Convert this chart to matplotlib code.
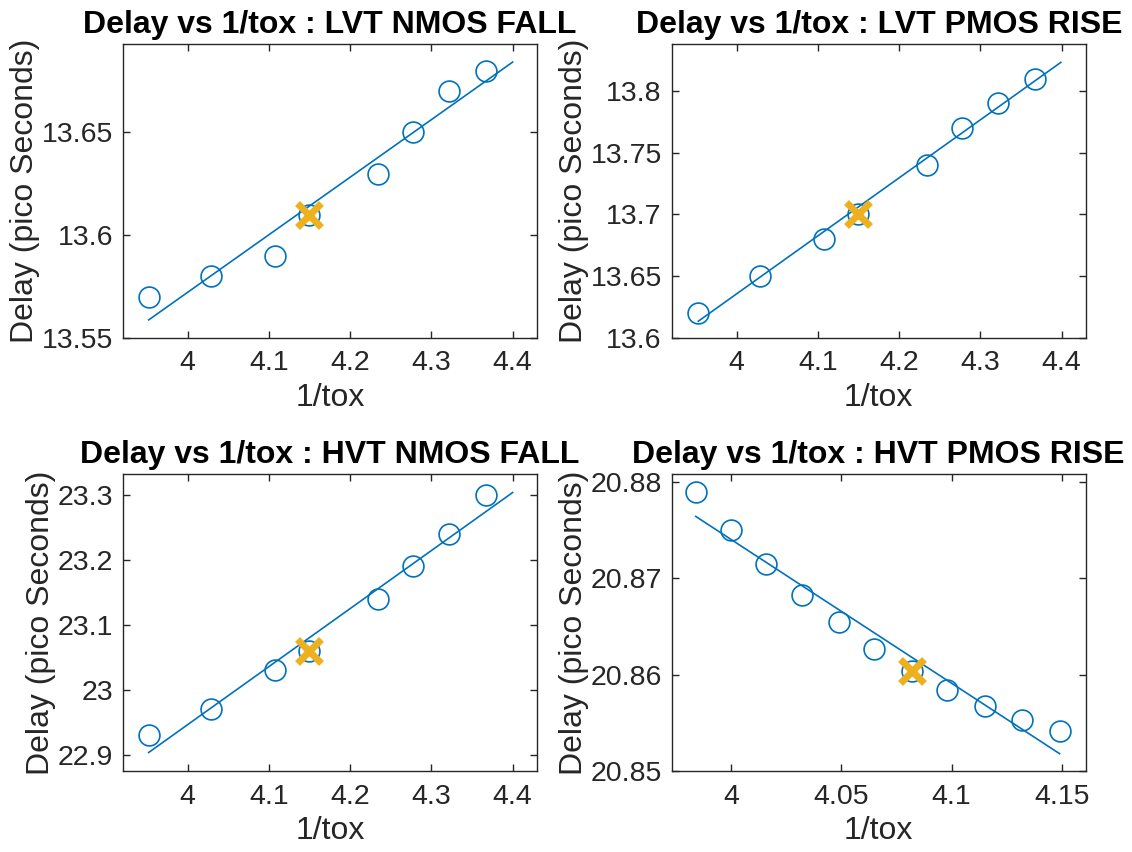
import matplotlib
matplotlib.use("Agg")
import matplotlib.pyplot as plt

plt.rcParams['font.family'] = ['Liberation Sans', 'DejaVu Sans']

BLUE = '#0072BD'
GOLD = '#EDB120'
DARK = '#262626'

titles = ["Delay vs 1/tox : LVT NMOS FALL", "Delay vs 1/tox : LVT PMOS RISE",
          "Delay vs 1/tox : HVT NMOS FALL", "Delay vs 1/tox : HVT PMOS RISE"]

# data
x_lvt_n = [3.952, 4.029, 4.108, 4.149, 4.234, 4.277, 4.322, 4.367]
y_lvt_n = [13.57, 13.58, 13.59, 13.61, 13.63, 13.65, 13.67, 13.68]
x_lvt_p = [3.952, 4.029, 4.108, 4.149, 4.234, 4.277, 4.322, 4.367]
y_lvt_p = [13.62, 13.65, 13.68, 13.70, 13.74, 13.77, 13.79, 13.81]
x_hvt_n = [3.952, 4.029, 4.108, 4.149, 4.234, 4.277, 4.322, 4.367]
y_hvt_n = [22.93, 22.97, 23.03, 23.06, 23.14, 23.19, 23.24, 23.30]
x_hvt_p = [3.984, 4.000, 4.016, 4.032, 4.049, 4.065, 4.082, 4.098, 4.115, 4.132, 4.149]
y_hvt_p = [20.8789, 20.8750, 20.8715, 20.8683, 20.8654, 20.8627, 20.8604,
           20.8584, 20.8567, 20.8553, 20.8542]

# fitted lines (end points)
fit_x = [[3.952, 4.400], [3.953, 4.399], [3.952, 4.400], [3.984, 4.149]]
fit_y = [[13.5588, 13.6842], [13.6136, 13.8231], [22.9035, 23.3035], [20.8764, 20.8518]]

# nominal points
nom_x = [4.149, 4.149, 4.149, 4.082]
nom_y = [13.61, 13.70, 23.06, 20.8604]

xlims = [(3.92, 4.43), (3.92, 4.43), (3.92, 4.43), (3.973, 4.161)]
ylims = [(13.55, 13.693), (13.60, 13.838), (22.875, 23.332), (20.85, 20.8808)]
xticks = [[4, 4.1, 4.2, 4.3, 4.4]] * 3 + [[4, 4.05, 4.1, 4.15]]
xticklabels = [["4", "4.1", "4.2", "4.3", "4.4"]] * 3 + [["4", "4.05", "4.1", "4.15"]]
yticks = [[13.55, 13.6, 13.65], [13.6, 13.65, 13.7, 13.75, 13.8],
          [22.9, 23.0, 23.1, 23.2, 23.3], [20.85, 20.86, 20.87, 20.88]]
yticklabels = [["13.55", "13.6", "13.65"], ["13.6", "13.65", "13.7", "13.75", "13.8"],
               ["22.9", "23", "23.1", "23.2", "23.3"], ["20.85", "20.86", "20.87", "20.88"]]

xs = [x_lvt_n, x_lvt_p, x_hvt_n, x_hvt_p]
ys = [y_lvt_n, y_lvt_p, y_hvt_n, y_hvt_p]

positions = [
    [122.7 / 1132, 1 - 338 / 852, (537 - 122.7) / 1132, (338 - 44) / 852],
    [671.5 / 1132, 1 - 338 / 852, (1086 - 671.5) / 1132, (338 - 44) / 852],
    [122.7 / 1132, 1 - 771 / 852, (537 - 122.7) / 1132, (771 - 474) / 852],
    [671.5 / 1132, 1 - 771 / 852, (1086 - 671.5) / 1132, (771 - 474) / 852],
]

fig = plt.figure(figsize=(11.32, 8.52), dpi=100)
for i in range(4):
    ax = fig.add_axes(positions[i])
    ax.plot(xs[i], ys[i], linestyle='none', marker='o', markersize=15,
            markerfacecolor='none', markeredgecolor=BLUE, markeredgewidth=1.2)
    ax.plot(fit_x[i], fit_y[i], color=BLUE, linewidth=1.2)
    ax.plot([nom_x[i]], [nom_y[i]], linestyle='none', marker='x', markersize=17,
            markeredgecolor=GOLD, markeredgewidth=5)
    ax.set_xlim(*xlims[i])
    ax.set_ylim(*ylims[i])
    ax.set_xticks(xticks[i])
    ax.set_xticklabels(xticklabels[i])
    ax.set_yticks(yticks[i])
    ax.set_yticklabels(yticklabels[i])
    ax.tick_params(direction='in', length=5, width=1, colors=DARK, labelsize=20.5,
                   top=True, right=True)
    ax.tick_params(axis='x', pad=9)
    ax.tick_params(axis='y', pad=7)
    for s in ax.spines.values():
        s.set_color(DARK)
        s.set_linewidth(1)
    ax.set_xlabel("1/tox", fontsize=23, color=DARK, labelpad=5)
    ax.set_ylabel("Delay (pico Seconds)", fontsize=23, color=DARK, labelpad=1)
    ax.set_title(titles[i], fontsize=23, fontweight='bold', color='black', pad=8)

fig.savefig("out.png", dpi=100)
